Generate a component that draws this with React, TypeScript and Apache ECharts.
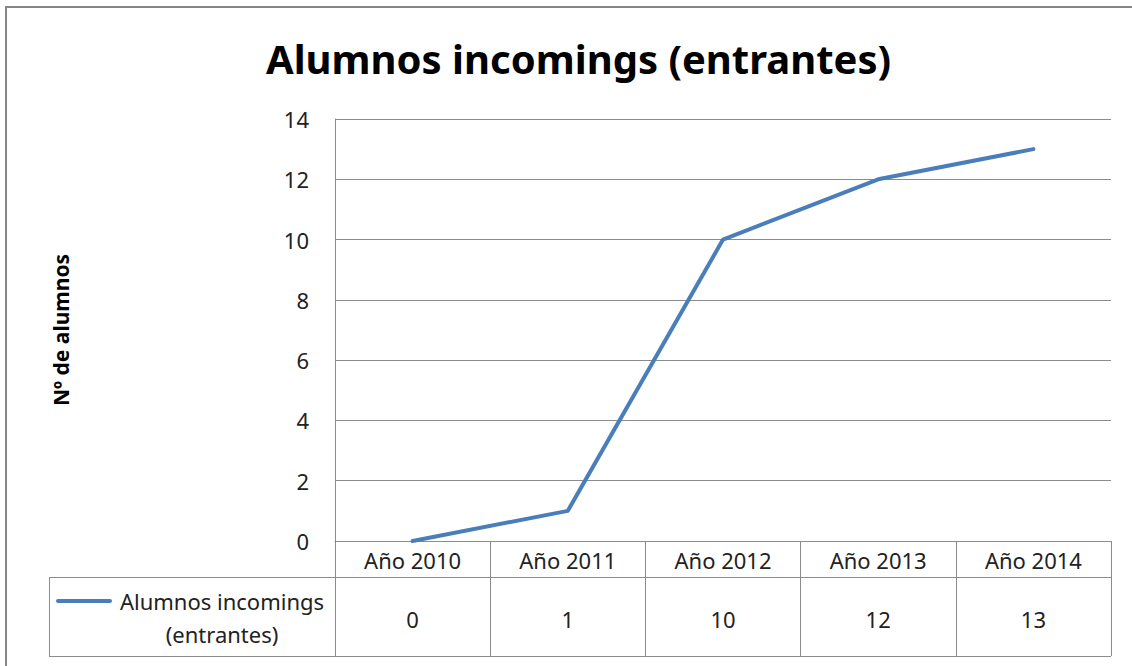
import React, { useEffect, useRef } from "react";
import * as echarts from "echarts";

const title = "Alumnos incomings (entrantes)";
const yAxisTitle = "Nº de alumnos";
const seriesName = "Alumnos incomings (entrantes)";
const categories = ["Año 2010", "Año 2011", "Año 2012", "Año 2013", "Año 2014"];
const values = [0, 1, 10, 12, 13];
const yMin = 0;
const yMax = 14;
const yStep = 2;

const FONT = "'Noto Sans', 'Open Sans', sans-serif";
const GRAY = "#8c8c8c";
const BLUE = "#4a7ebb";
const FS = 22;

export default function App() {
  const ref = useRef<HTMLDivElement>(null);
  useEffect(() => {
    if (!ref.current) return;
    const chart = echarts.init(ref.current, undefined, { renderer: "svg" });
    const gridLeft = 335;
    const gridRight = 1111;
    const gridTop = 119;
    const gridBottom = 541;
    const rowMid = 577;
    const tableBottom = 656;
    const tableLeft = 49;
    chart.setOption({
      animation: false,
      backgroundColor: "#ffffff",
      title: {
        text: title,
        left: 261,
        top: 33,
        textStyle: { fontFamily: FONT, fontWeight: "bold", fontSize: 40, color: "#000" },
      },
      grid: {
        left: gridLeft,
        right: 1132 - gridRight,
        top: gridTop,
        bottom: 666 - gridBottom,
        containLabel: false,
      },
      xAxis: [
        {
          type: "category",
          data: categories,
          boundaryGap: true,
          axisLine: { show: true, lineStyle: { color: GRAY, width: 1 } },
          axisTick: { show: true, length: tableBottom - gridBottom, lineStyle: { color: GRAY, width: 1 } },
          axisLabel: { margin: 8, fontFamily: FONT, fontSize: FS, color: "#222" },
        },
        {
          type: "category",
          position: "bottom",
          data: values.map((v) => String(v)),
          boundaryGap: true,
          axisLine: { show: false },
          axisTick: { show: false },
          axisLabel: { margin: 67, fontFamily: FONT, fontSize: FS, color: "#222" },
        },
      ],
      yAxis: {
        type: "value",
        min: yMin,
        max: yMax,
        interval: yStep,
        axisLine: { show: true, lineStyle: { color: GRAY, width: 1 } },
        axisTick: { show: false },
        splitLine: { show: true, lineStyle: { color: GRAY, width: 1 } },
        axisLabel: { margin: 26, fontFamily: FONT, fontSize: FS, color: "#222" },
        name: yAxisTitle,
        nameLocation: "middle",
        nameGap: 264,
        nameTextStyle: { fontFamily: FONT, fontWeight: "bold", fontSize: 21, color: "#000" },
      },
      series: [
        {
          name: seriesName,
          type: "line",
          data: values,
          xAxisIndex: 0,
          symbol: "none",
          lineStyle: { color: BLUE, width: 4, cap: "round", join: "round" },
        },
      ],
      graphic: [
        {
          type: "rect",
          shape: { x: 6, y: 7, width: 1140, height: 680 },
          style: { fill: "none", stroke: "#868686", lineWidth: 2 },
          silent: true,
        },
        {
          type: "line",
          shape: { x1: tableLeft, y1: rowMid + 0.5, x2: gridRight, y2: rowMid + 0.5 },
          style: { stroke: GRAY, lineWidth: 1 },
        },
        {
          type: "line",
          shape: { x1: tableLeft, y1: tableBottom + 0.5, x2: gridRight, y2: tableBottom + 0.5 },
          style: { stroke: GRAY, lineWidth: 1 },
        },
        {
          type: "line",
          shape: { x1: tableLeft + 0.5, y1: rowMid, x2: tableLeft + 0.5, y2: tableBottom },
          style: { stroke: GRAY, lineWidth: 1 },
        },
        {
          type: "line",
          shape: { x1: 58, y1: 601, x2: 110, y2: 601 },
          style: { stroke: BLUE, lineWidth: 4, lineCap: "round" },
        },
        {
          type: "text",
          x: 222,
          y: 617,
          style: {
            text: "Alumnos incomings\n(entrantes)",
            fontFamily: FONT,
            fontSize: FS,
            lineHeight: 33,
            fill: "#222",
            align: "center",
            verticalAlign: "middle",
          },
        },
      ],
    });
    return () => chart.dispose();
  }, []);
  return (
    <div
      ref={ref}
      style={{ position: "fixed", left: 0, top: 0, width: 1132, height: 666 }}
    />
  );
}
